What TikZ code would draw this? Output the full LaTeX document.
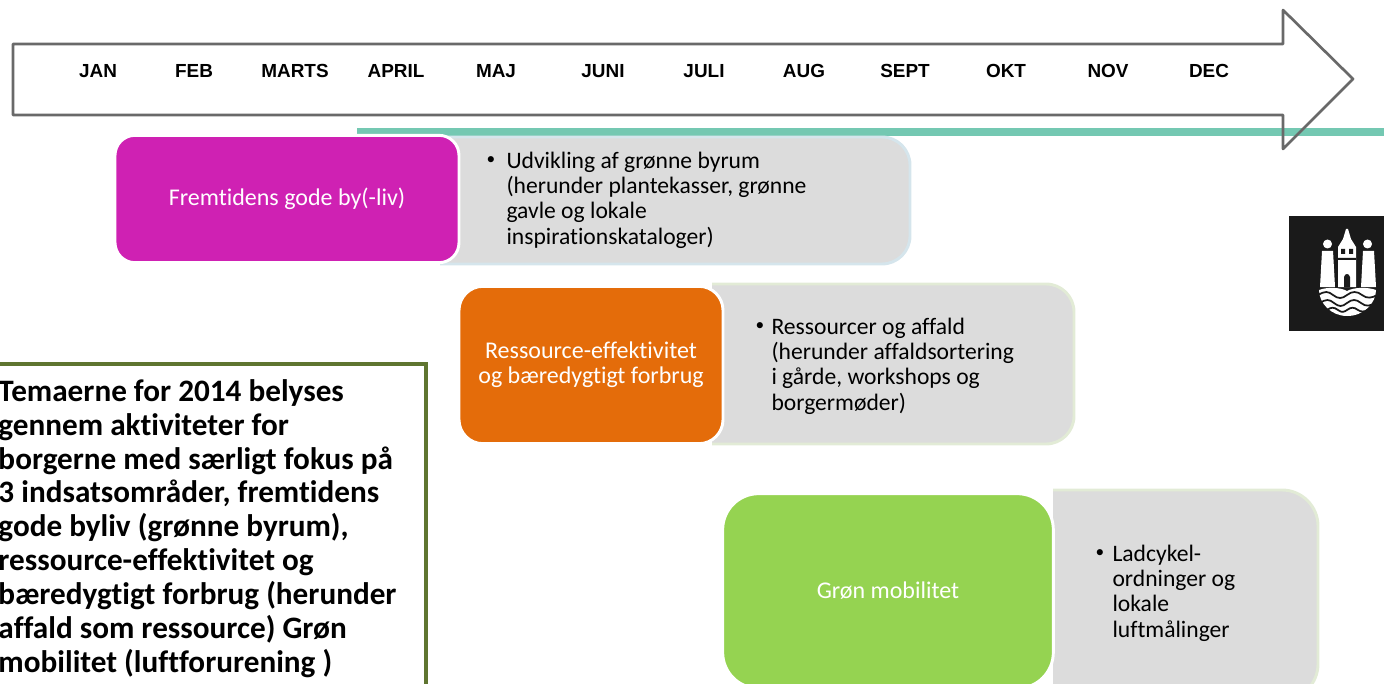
\documentclass[tikz,border=0pt]{standalone}
\usepackage{fontspec}
\usepackage{tikz}
\setmainfont{Carlito}[Ligatures={NoCommon}]
\newfontfamily\monthfont{Liberation Sans}
\definecolor{tealline}{RGB}{116,200,178}
\definecolor{arrowgray}{RGB}{105,105,105}
\definecolor{byliv}{RGB}{207,33,179}
\definecolor{ressource}{RGB}{228,108,10}
\definecolor{mobilitet}{RGB}{149,211,81}
\definecolor{detailgray}{RGB}{220,220,220}
\definecolor{bluerim}{RGB}{213,229,236}
\definecolor{greenrim}{RGB}{226,235,214}
\definecolor{noteframe}{RGB}{95,117,48}
\definecolor{armsblack}{RGB}{26,26,26}
\tikzset{every picture/.style={line width=0.75pt}}
\tikzset{
  monthlabel/.style={font=\monthfont\fontsize{14.2}{16}\selectfont\bfseries, inner sep=0pt},
  themebox/.style={draw=white, line width=2.2pt, text=white, align=center, inner sep=0pt, font=\fontsize{18}{19}\selectfont},
  detailbox/.style={fill=detailgray, line width=2.2pt, rounded corners=21pt},
  detailtext/.style={anchor=west, align=left, inner sep=0pt, font=\fontsize{17.7}{19}\selectfont},
  bulletmark/.style={inner sep=0pt, font=\fontsize{13}{19}\selectfont},
  notetext/.style={anchor=north west, align=left, inner sep=0pt, font=\fontsize{23.4}{25.4}\selectfont\bfseries},
  wave/.style={draw=armsblack, line width=1.3pt}
}

\begin{document}
\begin{tikzpicture}[x=0.75pt,y=0.75pt,yscale=-1,xscale=1]
\useasboundingbox (0,0) rectangle (1384,684);

%Shape: Right Arrow
\fill [white] (13,44) -- (1283,44) -- (1283,10) -- (1353,79) -- (1283,149) -- (1283,115) -- (13,115) -- cycle ;
%Straight Lines
\fill [tealline] (357,128) rectangle (1384,136) ;
\draw [arrowgray, line width=2pt, line join=round] (13,44) -- (1283,44) -- (1283,10) -- (1353,79) -- (1283,149) -- (1283,115) -- (13,115) -- cycle ;

% Text Node
\draw (98,71) node (jan) [monthlabel] {JAN};
% Text Node
\draw (194,71) node (feb) [monthlabel] {FEB};
% Text Node
\draw (295,71) node (marts) [monthlabel] {MARTS};
% Text Node
\draw (396,71) node (april) [monthlabel] {APRIL};
% Text Node
\draw (496,71) node (maj) [monthlabel] {MAJ};
% Text Node
\draw (603,71) node (juni) [monthlabel] {JUNI};
% Text Node
\draw (704,71) node (juli) [monthlabel] {JULI};
% Text Node
\draw (804,71) node (aug) [monthlabel] {AUG};
% Text Node
\draw (905,71) node (sept) [monthlabel] {SEPT};
% Text Node
\draw (1006,71) node (okt) [monthlabel] {OKT};
% Text Node
\draw (1108,71) node (nov) [monthlabel] {NOV};
% Text Node
\draw (1209,71) node (dec) [monthlabel] {DEC};

%Shape: Round Same Side Corner Rectangle
\draw [detailbox, draw=bluerim] (440,137) -- (910,137) -- (910,264) -- (440,264) ;
%Shape: Round Same Side Corner Rectangle
\draw [detailbox, draw=greenrim] (712,284) -- (1074,284) -- (1074,444) -- (712,444) ;
%Shape: Round Same Side Corner Rectangle
\draw [detailbox, draw=greenrim, rounded corners=27pt] (1053,490) -- (1318,490) -- (1318,700) -- (1053,700) ;

%Shape: Rounded Rectangle
\draw (287,199) node (bylivbox) [themebox, rounded corners=15pt, fill=byliv, minimum width=258pt, minimum height=95.5pt] {Fremtidens gode by(-liv)};
%Shape: Rounded Rectangle
\draw (591,365) node (ressourcebox) [themebox, rounded corners=18pt, fill=ressource, minimum width=198pt, minimum height=118pt] {Ressource-effektivitet\\og bæredygtigt forbrug};
%Shape: Rounded Rectangle
\draw (888,591) node (mobilitetbox) [themebox, rounded corners=27pt, fill=mobilitet, minimum width=248pt, minimum height=146pt] {Grøn mobilitet};

% Text Node
\draw (491,161) node (bylivbullet) [bulletmark] {\textbullet};
% Text Node
\draw (506,200) node (bylivtext) [detailtext] {Udvikling af grønne byrum\\(herunder plantekasser, grønne\\gavle og lokale\\inspirationskataloger)};
% Text Node
\draw (760,327) node (ressourcebullet) [bulletmark] {\textbullet};
% Text Node
\draw (771,366) node (ressourcetext) [detailtext] {Ressourcer og affald\\(herunder affaldsortering\\i gårde, workshops og\\borgermøder)};
% Text Node
\draw (1100,554) node (mobilitetbullet) [bulletmark] {\textbullet};
% Text Node
\draw (1112,593) node (mobilitettext) [detailtext] {Ladcykel-\\ordninger og\\lokale\\luftmålinger};

%Straight Lines
\draw [noteframe, line width=2.6pt] (0,364) -- (426,364) -- (426,684) ;
% Text Node
\draw (-2,379) node (notetext) [notetext] {Temaerne for 2014 belyses\\gennem aktiviteter for\\borgerne med særligt fokus på\\3 indsatsområder, fremtidens\\gode byliv (grønne byrum),\\ressource-effektivitet og\\bæredygtigt forbrug (herunder\\affald som ressource) Grøn\\mobilitet (luftforurening )};

%Shape: Square
\fill [armsblack] (1289,216) rectangle (1384,331) ;
%Shape: Towers
\fill [white] (1320,287) -- (1322,251) -- (1333,251) -- (1335,287) -- cycle ;
\fill [white] (1361,287) -- (1363,251) -- (1374,251) -- (1376,287) -- cycle ;
\fill [white] (1327.5,244) circle [radius=4.5] (1367.5,244) circle [radius=4.5] ;
\fill [white] (1338,287) -- (1338,247) -- (1343,239) -- (1346,229) -- (1348,229) -- (1351,239) -- (1356,247) -- (1356,287) -- cycle ;
\fill [armsblack] (1344,287) -- (1344,277) .. controls (1345,273) and (1349,273) .. (1350,277) -- (1350,287) -- cycle ;
\fill [armsblack] (1341,249) rectangle (1345,254) (1349,249) rectangle (1353,254) (1338,258) rectangle (1356,260) ;
%Shape: Waves
\fill [white] (1319,290) .. controls (1326,287) and (1340,287) .. (1347,291) .. controls (1354,287) and (1368,287) .. (1376,290) .. controls (1376,303) and (1364,316) .. (1347,316) .. controls (1331,316) and (1319,303) .. (1319,290) -- cycle ;
\draw [wave] (1318,295) .. controls (1325,291) and (1328,291) .. (1333,295) .. controls (1338,299) and (1342,299) .. (1347,295) .. controls (1352,291) and (1357,291) .. (1362,295) .. controls (1367,299) and (1372,298) .. (1377,295) ;
\draw [wave] (1320,303) .. controls (1326,299) and (1329,299) .. (1334,303) .. controls (1339,307) and (1342,307) .. (1347,303) .. controls (1352,299) and (1356,299) .. (1361,303) .. controls (1366,307) and (1370,306) .. (1375,303) ;
\draw [wave] (1327,310) .. controls (1331,307) and (1334,307) .. (1338,310) .. controls (1342,313) and (1344,312) .. (1347,310) .. controls (1351,307) and (1354,307) .. (1358,310) .. controls (1361,312) and (1364,312) .. (1368,310) ;
\end{tikzpicture}
\end{document}
